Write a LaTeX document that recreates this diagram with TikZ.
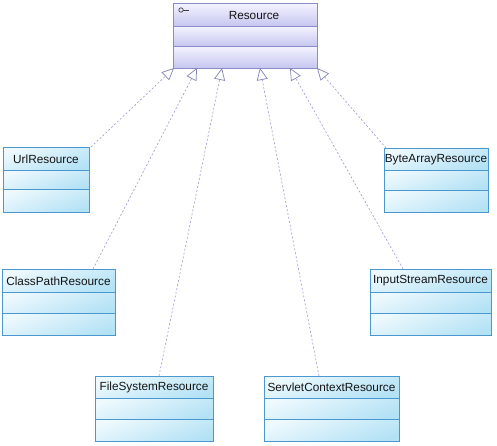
\documentclass[tikz,border=0pt]{standalone}
\usepackage{fontspec}
\setmainfont{Liberation Sans}
\usetikzlibrary{arrows.meta,calc}
\definecolor{clsborder}{HTML}{4A98CF}
\definecolor{clstop}{HTML}{EEF9FE}
\definecolor{clsbot}{HTML}{B4E2F5}
\definecolor{resborder}{HTML}{8C8CC8}
\definecolor{restop}{HTML}{F4F4FF}
\definecolor{resbot}{HTML}{C6C6F0}
\definecolor{linkcol}{HTML}{9A9AD2}
\definecolor{tipcol}{HTML}{8484B8}
\definecolor{txt}{HTML}{141414}
\tikzset{
  cls shade/.style={top color=clstop,bottom color=clsbot,shading angle=20},
  res shade/.style={top color=restop,bottom color=resbot},
  cls box/.style={draw=clsborder,line width=0.8pt,inner sep=0pt,outer sep=0pt,rectangle},
  res box/.style={draw=resborder,line width=0.8pt,inner sep=0pt,outer sep=0pt,rectangle},
  cls line/.style={draw=clsborder,line width=0.8pt},
  res line/.style={draw=resborder,line width=0.8pt},
  clslabel/.style={text=txt,font=\fontsize{11.8}{13}\selectfont,inner sep=0pt},
  realize/.style={draw=linkcol,line width=0.6pt,dash pattern=on 2pt off 2pt,
    -{Triangle[open,length=12pt,width=11pt,color=tipcol,line width=0.7pt]}},
}
\newcommand\umlclass[9]{%
  \shade[#9 shade] (#2,#3) rectangle (#4,#6);
  \shade[#9 shade] (#2,#6) rectangle (#4,#7);
  \shade[#9 shade] (#2,#7) rectangle (#4,#5);
  \node[#9 box,minimum width={(#4-#2)*1pt},minimum height={(#5-#3)*1pt},anchor=north west] (#1) at (#2,#3) {};
  \draw[#9 line] (#2,#6) -- (#4,#6);
  \draw[#9 line] (#2,#7) -- (#4,#7);
}
\begin{document}
\begin{tikzpicture}[x=1pt,y=-1pt]
\useasboundingbox[fill=white] (0,0) rectangle (497,445);
\umlclass{res}{173}{3}{317}{68}{26}{46}{Resource}{res}
\node[clslabel] (res-label) at (254,15) {Resource};
\draw[line width=0.7pt,draw=black!75] (181,10) circle[radius=2.2pt];
\draw[line width=0.7pt,draw=black!75] (183.2,10) -- (189,10);
\umlclass{url}{3}{147}{89}{212}{170}{189}{UrlResource}{cls}
\node[clslabel] (url-label) at (46,159) {UrlResource};
\umlclass{bytearray}{384}{148}{488}{212}{170}{190}{ByteArrayResource}{cls}
\node[clslabel] (bytearray-label) at (436,159.5) {ByteArrayResource};
\umlclass{classpath}{2}{269}{115}{335}{292}{313}{ClassPathResource}{cls}
\node[clslabel] (classpath-label) at (58.5,281) {ClassPathResource};
\umlclass{inputstream}{370}{269}{491}{335}{292}{313}{InputStreamResource}{cls}
\node[clslabel] (inputstream-label) at (430.5,281) {InputStreamResource};
\umlclass{filesystem}{95}{376}{213}{441}{398}{419}{FileSystemResource}{cls}
\node[clslabel] (filesystem-label) at (154,387.5) {FileSystemResource};
\umlclass{servlet}{264}{376}{399}{441}{398}{419}{ServletContextResource}{cls}
\node[clslabel] (servlet-label) at (331.5,387.5) {ServletContextResource};
% tips on Resource
\coordinate (t1) at ($(res.south west)+(1,0)$);
\coordinate (t2) at ($(res.south west)+(24,0)$);
\coordinate (t3) at ($(res.south west)+(49,0)$);
\coordinate (t4) at ($(res.south west)+(87,0)$);
\coordinate (t5) at ($(res.south west)+(117,0)$);
\coordinate (t6) at ($(res.south east)+(0,0)$);
% ends on children
\coordinate (e1) at ($(url.north west)+(88,0)$);
\coordinate (e2) at ($(classpath.north west)+(91,0)$);
\coordinate (e3) at ($(filesystem.north west)+(64,0)$);
\coordinate (e4) at ($(servlet.north west)+(55,0)$);
\coordinate (e5) at ($(inputstream.north west)+(33,0)$);
\coordinate (e6) at ($(bytearray.north west)+(2,0)$);
\draw[realize] (e1) -- (t1);
\draw[realize] (e2) -- (t2);
\draw[realize] (e3) -- (t3);
\draw[realize] (e4) -- (t4);
\draw[realize] (e5) -- (t5);
\draw[realize] (e6) -- (t6);
\end{tikzpicture}
\end{document}
